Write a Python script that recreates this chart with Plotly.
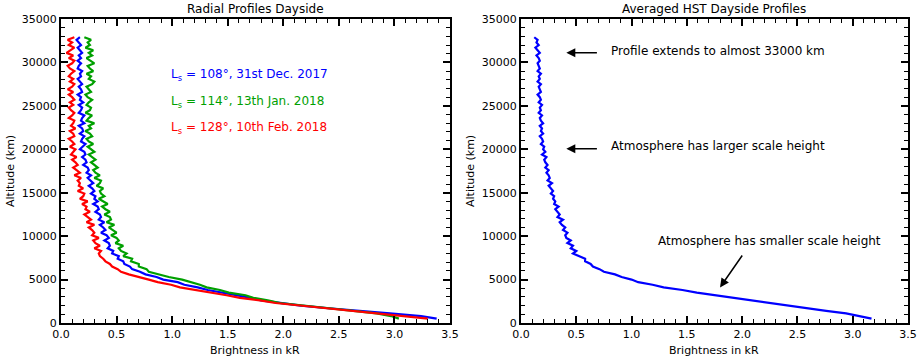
import plotly.graph_objects as go

# Altitude grid (km), shared by all profiles
ALTITUDE = list(range(500, 33000, 300))

# Left panel: radial profiles (brightness in kR)
BLUE_108 = [3.38, 3.24, 2.96, 2.64, 2.41, 2.16, 1.98, 1.80, 1.71, 1.57,
            1.46, 1.32, 1.23, 1.11, 1.05, 0.92, 0.86, 0.76, 0.71, 0.64,
            0.62, 0.57, 0.56, 0.51, 0.52, 0.46, 0.47, 0.42, 0.44, 0.43,
            0.39, 0.43, 0.41, 0.36, 0.40, 0.38, 0.35, 0.39, 0.34, 0.36,
            0.35, 0.31, 0.34, 0.33, 0.29, 0.33, 0.30, 0.31, 0.27, 0.30,
            0.28, 0.25, 0.29, 0.26, 0.24, 0.27, 0.23, 0.25, 0.24, 0.20,
            0.23,
            0.22, 0.19, 0.22, 0.21, 0.17, 0.20, 0.22, 0.18, 0.19, 0.21,
            0.17, 0.20, 0.19, 0.16, 0.21, 0.18, 0.19, 0.21, 0.16, 0.18,
            0.19, 0.16, 0.20, 0.17, 0.18, 0.15, 0.19, 0.18, 0.16, 0.19,
            0.17, 0.15, 0.18, 0.17, 0.19, 0.15, 0.16, 0.18, 0.15, 0.18,
            0.16, 0.19, 0.17, 0.15, 0.18, 0.16, 0.14, 0.17]

GREEN_114 = [3.04, 2.97, 2.84, 2.63, 2.37, 2.16, 1.97, 1.86, 1.73, 1.66,
             1.51, 1.43, 1.31, 1.25, 1.17, 1.09, 0.97, 0.89, 0.79, 0.77,
             0.70, 0.70, 0.63, 0.64, 0.56, 0.59, 0.54, 0.52, 0.56, 0.49,
             0.52, 0.50, 0.45, 0.50, 0.47, 0.43, 0.48, 0.41, 0.45, 0.44,
             0.39, 0.44, 0.40, 0.37, 0.42, 0.38, 0.34, 0.39, 0.36, 0.35,
             0.38, 0.32, 0.35, 0.36, 0.30, 0.35, 0.31, 0.29, 0.33, 0.30,
             0.27,
             0.31, 0.28, 0.25, 0.30, 0.27, 0.24, 0.29, 0.25, 0.23, 0.28,
             0.26, 0.22, 0.27, 0.25, 0.30, 0.23, 0.25, 0.28, 0.22, 0.26,
             0.27, 0.23, 0.25, 0.28, 0.24, 0.22, 0.27, 0.25, 0.23, 0.28,
             0.30, 0.25, 0.27, 0.23, 0.29, 0.26, 0.24, 0.30, 0.26, 0.23,
             0.28, 0.25, 0.29, 0.22, 0.26, 0.24, 0.27, 0.21]

RED_128 = [3.30, 3.06, 2.84, 2.61, 2.34, 2.13, 1.93, 1.79, 1.61, 1.49,
           1.35, 1.23, 1.07, 0.99, 0.87, 0.79, 0.69, 0.61, 0.54, 0.51,
           0.46, 0.44, 0.40, 0.38, 0.35, 0.34, 0.36, 0.30, 0.35, 0.31,
           0.29, 0.34, 0.28, 0.30, 0.28, 0.25, 0.30, 0.23, 0.27, 0.24,
           0.21, 0.26, 0.22, 0.23, 0.19, 0.24, 0.17, 0.20, 0.21, 0.15,
           0.20, 0.16, 0.17, 0.15, 0.18, 0.12, 0.17, 0.14, 0.11, 0.15,
           0.13,
           0.10, 0.14, 0.09, 0.11, 0.13, 0.08, 0.12, 0.10, 0.07, 0.12,
           0.11, 0.08, 0.13, 0.09, 0.11, 0.12, 0.07, 0.10, 0.12, 0.09,
           0.07, 0.11, 0.08, 0.12, 0.10, 0.07, 0.11, 0.06, 0.10, 0.12,
           0.08, 0.11, 0.07, 0.09, 0.12, 0.08, 0.06, 0.10, 0.12, 0.07,
           0.11, 0.05, 0.09, 0.12, 0.07, 0.10, 0.06, 0.12]

# Right panel: averaged profile
AVERAGE = [3.17, 3.05, 2.94, 2.76, 2.59, 2.46, 2.27, 2.11, 1.91, 1.76,
           1.59, 1.46, 1.29, 1.19, 1.06, 1.00, 0.91, 0.85, 0.75, 0.71,
           0.65, 0.63, 0.58, 0.58, 0.53, 0.47, 0.50, 0.45, 0.47, 0.42,
           0.45, 0.41, 0.40, 0.42, 0.38, 0.40, 0.37, 0.35, 0.38, 0.33,
           0.35, 0.33, 0.31, 0.34, 0.30, 0.31, 0.29, 0.30, 0.27, 0.29,
           0.27, 0.25, 0.28, 0.24, 0.26, 0.25, 0.23, 0.25, 0.22, 0.24,
           0.22,
           0.21, 0.23, 0.19, 0.22, 0.20, 0.21, 0.18, 0.20, 0.19, 0.17,
           0.20, 0.18, 0.19, 0.17, 0.20, 0.18, 0.17, 0.19, 0.16, 0.18,
           0.17, 0.19, 0.16, 0.18, 0.17, 0.15, 0.18, 0.17, 0.16, 0.18,
           0.15, 0.17, 0.16, 0.18, 0.15, 0.17, 0.16, 0.15, 0.17, 0.16,
           0.14, 0.17, 0.15, 0.13, 0.16, 0.14, 0.15, 0.12]

SERIES_LABELS = ["L<sub>s</sub> = 108°, 31st Dec. 2017",
                 "L<sub>s</sub> = 114°, 13th Jan. 2018",
                 "L<sub>s</sub> = 128°, 10th Feb. 2018"]
SERIES_COLORS = ["#0000ff", "#00a000", "#ff0000"]

PANEL_TITLES = ["Radial Profiles Dayside", "Averaged HST Dayside Profiles"]
X_TITLE = "Brightness in kR"
Y_TITLE = "Altitude (km)"
NOTES = ["Profile extends to almost 33000 km",
         "Atmosphere has larger scale height",
         "Atmosphere has smaller scale height"]

FONT = "DejaVu Sans"
W, H = 920, 359

fig = go.Figure()
for vals, col in zip([BLUE_108, GREEN_114, RED_128], SERIES_COLORS):
    fig.add_trace(go.Scatter(x=vals, y=ALTITUDE, mode="lines",
                             line=dict(color=col, width=2.2),
                             xaxis="x", yaxis="y", showlegend=False))
fig.add_trace(go.Scatter(x=AVERAGE, y=ALTITUDE, mode="lines",
                         line=dict(color="#0000ff", width=2.2),
                         xaxis="x2", yaxis="y2", showlegend=False))

ydom = [36 / H, 340 / H]
axis_common = dict(showline=True, linecolor="black", linewidth=2, mirror="allticks",
                   ticks="inside", ticklen=7, tickwidth=1.5, tickcolor="black",
                   showgrid=False, zeroline=False, automargin=False,
                   tickfont=dict(family=FONT, size=11, color="black"))
xcommon = dict(axis_common, range=[0, 3.5], tickvals=[0, 0.5, 1, 1.5, 2, 2.5, 3, 3.5],
               tickformat=".1f",
               minor=dict(dtick=0.1, ticks="inside", ticklen=4, tickcolor="black", tickwidth=1.2))
ycommon = dict(axis_common, range=[0, 35000], tickvals=list(range(0, 35001, 5000)),
               tickformat="d",
               minor=dict(dtick=1000, ticks="inside", ticklen=4, tickcolor="black", tickwidth=1.2))

fig.update_layout(
    width=W, height=H,
    margin=dict(l=0, r=0, t=0, b=0),
    paper_bgcolor="white", plot_bgcolor="white",
    font=dict(family=FONT, color="black"),
    xaxis=dict(xcommon, domain=[61 / W, 450 / W], anchor="y"),
    yaxis=dict(ycommon, domain=ydom, anchor="x"),
    xaxis2=dict(xcommon, domain=[521 / W, 908 / W], anchor="y2"),
    yaxis2=dict(ycommon, domain=ydom, anchor="x2"),
)

annotations = []
# Panel titles
for t, cx in zip(PANEL_TITLES, [255, 714]):
    annotations.append(dict(text=t, x=cx / W, y=(H - 9) / H, xref="paper", yref="paper",
                            showarrow=False, xanchor="center", yanchor="middle",
                            font=dict(family=FONT, size=12, color="black")))
# Axis titles
for cx in [255, 714]:
    annotations.append(dict(text=X_TITLE, x=cx / W, y=(H - 350) / H, xref="paper", yref="paper",
                            showarrow=False, xanchor="center", yanchor="middle",
                            font=dict(family=FONT, size=11, color="black")))
for cx in [10, 470]:
    annotations.append(dict(text=Y_TITLE, x=cx / W, y=(H - 171) / H, xref="paper", yref="paper",
                            showarrow=False, xanchor="center", yanchor="middle", textangle=-90,
                            font=dict(family=FONT, size=11, color="black")))
# Series labels in left panel
for lab, col, yy in zip(SERIES_LABELS, SERIES_COLORS, [28500, 25450, 22450]):
    annotations.append(dict(text=lab, x=0.97, y=yy, xref="x", yref="y", showarrow=False,
                            xanchor="left", yanchor="middle",
                            font=dict(family=FONT, size=12, color=col)))
# Notes in right panel
annotations.append(dict(text=NOTES[0], x=0.80, y=31350, xref="x2", yref="y2", showarrow=False,
                        xanchor="left", yanchor="middle", font=dict(family=FONT, size=12, color="black")))
annotations.append(dict(text=NOTES[1], x=0.80, y=20400, xref="x2", yref="y2", showarrow=False,
                        xanchor="left", yanchor="middle", font=dict(family=FONT, size=12, color="black")))
annotations.append(dict(text=NOTES[2], x=2.25, y=9400, xref="x2", yref="y2", showarrow=False,
                        xanchor="center", yanchor="middle", font=dict(family=FONT, size=12, color="black")))
# Arrows
for (tx, ty, hx, hy) in [(0.70, 31100, 0.41, 31100), (0.70, 20050, 0.41, 20050), (2.01, 7950, 1.80, 4100)]:
    annotations.append(dict(text="", x=hx, y=hy, ax=tx, ay=ty, xref="x2", yref="y2",
                            axref="x2", ayref="y2", showarrow=True, arrowhead=2,
                            arrowsize=1.2, arrowwidth=1.5, arrowcolor="black"))
fig.update_layout(annotations=annotations)

fig.write_html("out.html", config={"displayModeBar": False},
               post_script="document.body.style.margin='0px';")
